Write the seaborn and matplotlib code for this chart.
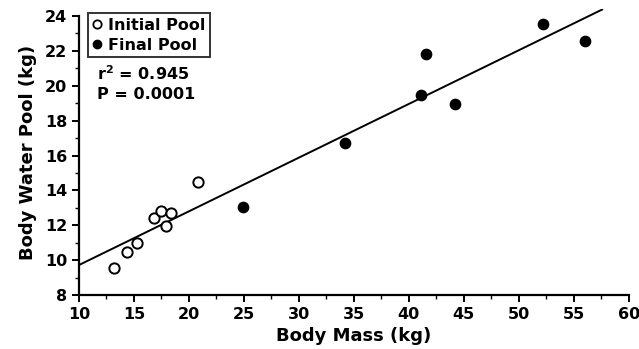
import numpy as np
import pandas as pd
import matplotlib
matplotlib.use("Agg")
import matplotlib.pyplot as plt
import seaborn as sns
from matplotlib.ticker import MultipleLocator
from matplotlib.lines import Line2D

# Data
initial_mass = [13.2, 14.4, 15.3, 16.8, 17.5, 17.9, 18.4, 20.8]
initial_pool = [9.55, 10.45, 11.0, 12.4, 12.8, 11.97, 12.7, 14.5]
final_mass = [24.9, 34.2, 41.1, 41.6, 44.2, 52.2, 56.0]
final_pool = [13.06, 16.73, 19.5, 21.8, 18.95, 23.55, 22.58]
fit_mass = [10.0, 57.6]
fit_pool = [9.72, 24.38]

sns.set_style("ticks")
plt.rcParams['font.family'] = ['DejaVu Sans']
plt.rcParams['font.weight'] = 'bold'
plt.rcParams['text.color'] = 'black'
plt.rcParams['axes.labelcolor'] = 'black'

df = pd.DataFrame({
    "mass": initial_mass + final_mass,
    "pool": initial_pool + final_pool,
    "group": ["Initial Pool"] * len(initial_mass) + ["Final Pool"] * len(final_mass),
})

fig = plt.figure(figsize=(6.39, 3.49), dpi=100)
ax = fig.add_axes([0.1236, 0.1547, 0.984 - 0.1236, 0.974 - 0.1547])

sns.lineplot(x=fit_mass, y=fit_pool, ax=ax, color="black", linewidth=1.4)
ini = df[df.group == "Initial Pool"]
fin = df[df.group == "Final Pool"]
sns.scatterplot(data=ini, x="mass", y="pool", ax=ax, s=55, facecolor="white",
                edgecolor="black", linewidth=1.4, zorder=3)
sns.scatterplot(data=fin, x="mass", y="pool", ax=ax, s=55, color="black",
                edgecolor="black", linewidth=1.0, zorder=3)

ax.set_xlim(10, 60)
ax.set_ylim(8, 24.4)
ax.set_xticks(np.arange(10, 61, 5))
ax.set_yticks(np.arange(8, 25, 2))
ax.xaxis.set_minor_locator(MultipleLocator(2.5))
ax.yaxis.set_minor_locator(MultipleLocator(1))
sns.despine(ax=ax)
ax.spines['left'].set_bounds(8, 24)
for s in ['left', 'bottom']:
    ax.spines[s].set_linewidth(1.6)
    ax.spines[s].set_color('black')
ax.tick_params(which='major', length=5, width=1.4, labelsize=11.5, colors='black')
ax.tick_params(which='minor', length=3, width=1.0, colors='black')
for lab in ax.get_xticklabels() + ax.get_yticklabels():
    lab.set_fontweight('bold')

ax.set_xlabel("Body Mass (kg)", fontsize=13, fontweight='bold', labelpad=4)
ax.set_ylabel("Body Water Pool (kg)", fontsize=13, fontweight='bold', labelpad=6)

handles = [
    Line2D([], [], marker='o', linestyle='none', markerfacecolor='white',
           markeredgecolor='black', markeredgewidth=1.3, markersize=6),
    Line2D([], [], marker='o', linestyle='none', markerfacecolor='black',
           markeredgecolor='black', markersize=6),
]
leg = ax.legend(handles, ["Initial Pool", "Final Pool"], loc='upper left',
                bbox_to_anchor=(0.016, 0.986), frameon=True, fancybox=False,
                edgecolor='black', handlelength=0.6, handletextpad=0.35,
                borderpad=0.3, labelspacing=0.3, borderaxespad=0,
                prop={'weight': 'bold', 'size': 11.5})
leg.get_frame().set_linewidth(1.4)
for t in leg.get_texts():
    t.set_color('black')

ax.text(0.033, 0.773, "r$^{\\mathbf{2}}$ = 0.945", transform=ax.transAxes,
        fontsize=11.5, fontweight='bold', va='center', ha='left', color='black')
ax.text(0.033, 0.70, "P = 0.0001", transform=ax.transAxes,
        fontsize=11.5, fontweight='bold', va='center', ha='left', color='black')

fig.savefig("out.png", dpi=100)
